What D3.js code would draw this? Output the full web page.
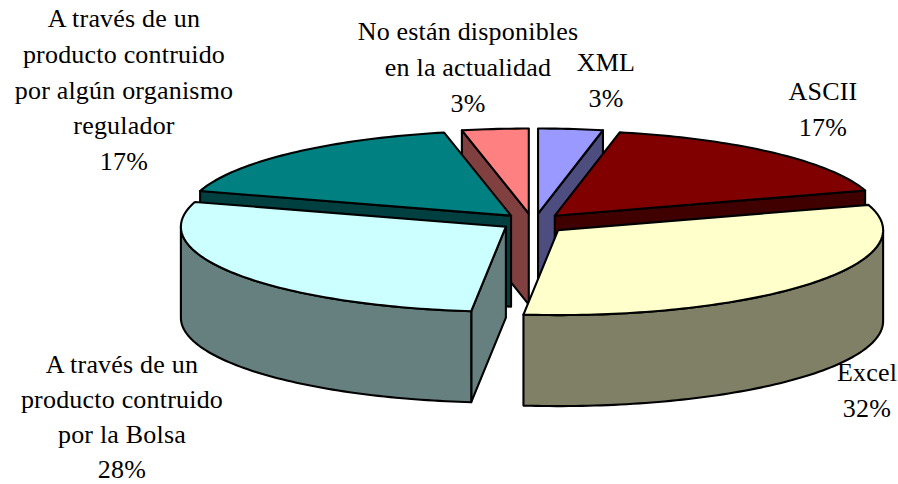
<!DOCTYPE html>
<html><head><meta charset="utf-8">
<script src="https://cdn.jsdelivr.net/npm/d3@7/dist/d3.min.js"></script>
<style>html,body{margin:0;padding:0;background:#fff;overflow:hidden}svg{display:block}
text{font-family:"Liberation Serif",serif;font-size:26px;letter-spacing:.2px;fill:#000;text-anchor:middle}</style>
</head><body><div id="c"></div>
<script>
const categories = ["XML","ASCII","Excel","A través de un producto contruido por la Bolsa","A través de un producto contruido por algún organismo regulador","No están disponibles en la actualidad"];
const values = [3.2,17,31.5,28,17,3.3];
const percentLabels = ["3%","17%","32%","28%","17%","3%"];
const topColors = ["#9999ff","#800000","#ffffcc","#ccffff","#008080","#ff8080"];
const wallColors = ["#4d4d80","#400000","#808066","#668080","#004040","#804040"];
const drawOrder = [5,0,4,1,3,2];
const explodeX = [.155,.1,.1,.1,.1,.125];
const explodeY = [.1,.1,.15,.1,.1,.1];
const labelLines = [["XML"],["ASCII"],["Excel"],["A través de un","producto contruido","por la Bolsa"],["A través de un","producto contruido","por algún organismo","regulador"],["No están disponibles","en la actualidad"]];
const labelCenterX = [606,823,867,122,124,468];
const labelFirstY = [71,100,381,373,27,40];
const labelLineStep = [36,36,36,35,35.8,36];

const W=898,H=484,cx=533,cy=222,rx=325,ry=85,depth=91;
const svg=d3.select("#c").append("svg").attr("width",W).attr("height",H);
const arcs=d3.pie().sort(null)(values);
const line=d3.line();
const xs=d3.scaleLinear().domain([-1,1]).range([cx-rx,cx+rx]);
const ys=d3.scaleLinear().domain([-1,1]).range([cy-ry,cy+ry]);
const P=(a,rX,rY)=>[xs(rX*Math.sin(a)),ys(-rY*Math.cos(a))];
const g=svg.append("g").attr("stroke","#000").attr("stroke-width",2.1).attr("stroke-linejoin","round");
drawOrder.forEach(i=>{
  const d=arcs[i],mid=(d.startAngle+d.endAngle)/2;
  const c=P(mid,explodeX[i],explodeY[i]),o=[c[0]-cx,c[1]-cy];
  const rim=(a0,a1,dy=0)=>{
    const n=Math.max(2,Math.ceil((a1-a0)/0.02));
    return d3.range(n+1).map(k=>{const p=P(a0+(a1-a0)*k/n,1,1);return [p[0]+o[0],p[1]+o[1]+dy];});
  };
  const wall=pts=>g.append("path").attr("d",line(pts)+"Z").attr("fill",wallColors[i]);
  const face=a=>{
    const p=P(a,1,1),e=[p[0]+o[0],p[1]+o[1]];
    wall([c,e,[e[0],e[1]+depth],[c[0],c[1]+depth]]);
  };
  if(Math.sin(d.endAngle)>1e-6) face(d.endAngle);
  if(Math.sin(d.startAngle)<-1e-6) face(d.startAngle);
  const a0=Math.max(d.startAngle,Math.PI/2),a1=Math.min(d.endAngle,Math.PI*1.5);
  if(a1>a0) wall(rim(a0,a1).concat(rim(a0,a1,depth).reverse()));
  g.append("path").attr("d",line([c].concat(rim(d.startAngle,d.endAngle)))+"Z").attr("fill",topColors[i]);
});
const tg=svg.append("g");
categories.forEach((name,i)=>{
  const lines=labelLines[i].concat([percentLabels[i]]);
  const t=tg.append("text");
  lines.forEach((s,j)=>t.append("tspan").attr("x",labelCenterX[i]).attr("y",labelFirstY[i]+j*labelLineStep[i]).text(s));
});
</script></body></html>
